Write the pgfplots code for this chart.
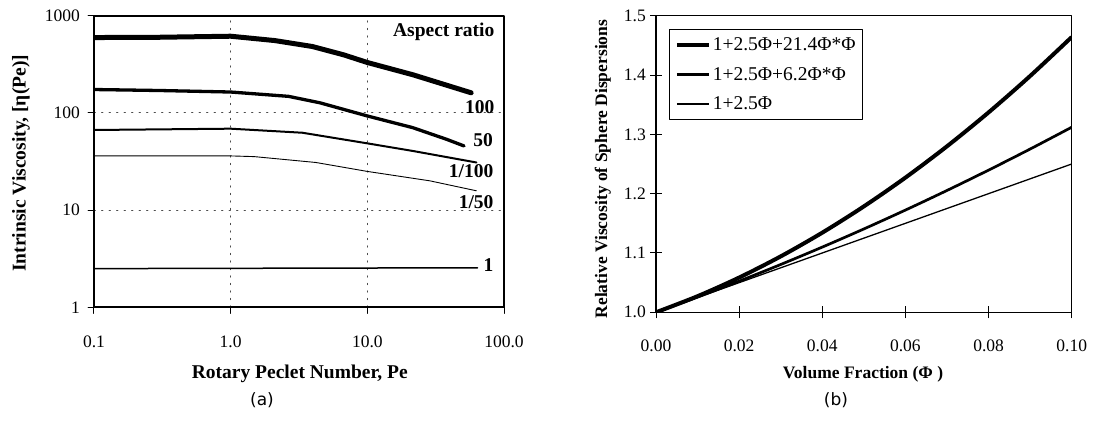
\documentclass[border=0pt]{standalone}
\usepackage{fontspec}
\setmainfont{Liberation Serif}
\newfontfamily\capfont{DejaVu Sans}
\usepackage{pgfplots}
\pgfplotsset{compat=1.18}
\pgfplotstableread{
x y
0.1 596
0.3 600
1.0 615
2.1 555
3.96 482
6.7 396
10 330
21.5 247
57.5 161
}\arhundred
\pgfplotstableread{
x y
0.1 174
0.3 170
1.0 164
2.65 148
4.5 127
10 93
21.5 70.5
38 53.5
51 45.7
}\arfifty
\pgfplotstableread{
x y
0.1 66.7
1.0 68.8
3.35 62.5
10 48.6
21.5 40.6
62.8 30.9
}\aronehundredth
\pgfplotstableread{
x y
0.1 36.1
1.0 36.1
1.49 35.5
4.2 30.9
10 25
28.7 20
62.8 15.8
}\aronefiftieth
\pgfplotstableread{
x y
0.1 2.5
64 2.55
}\arone
\pgfplotstableread{
x a b c
0.00 1.00000 1.00000 1.000
0.01 1.02714 1.02562 1.025
0.02 1.05856 1.05248 1.050
0.03 1.09426 1.08058 1.075
0.04 1.13424 1.10992 1.100
0.05 1.17850 1.14050 1.125
0.06 1.22704 1.17232 1.150
0.07 1.27986 1.20538 1.175
0.08 1.33696 1.23968 1.200
0.09 1.39834 1.27522 1.225
0.10 1.46400 1.31200 1.250
}\spheres
\begin{document}
\begin{tikzpicture}[x=1pt,y=1pt]
\path[use as bounding box] (0,0) rectangle (1096,428);
\begin{axis}[
  at={(94pt,120.7pt)}, anchor=south west,
  scale only axis, width=410pt, height=291.6pt,
  xmode=log, ymode=log,
  xmin=0.1, xmax=100, ymin=1, ymax=1000,
  xtick={0.1,1,10,100}, xticklabels={0.1,1.0,10.0,100.0},
  ytick={1,10,100,1000}, yticklabels={1,10,100,1000},
  xminorticks=false, yminorticks=false,
  tick align=outside, xtick pos=bottom, ytick pos=left,
  major tick length=6pt,
  every tick/.style={black, line width=1pt},
  axis line style={line width=2pt},
  grid=major,
  major grid style={black!70, line width=0.8pt, dash pattern=on 1.5pt off 6pt},
  /pgf/number format/assume math mode=true,
  ticklabel style={font=\fontsize{17.5}{18}\selectfont},
  xticklabel style={anchor=north, inner sep=0pt, yshift=-22pt},
  yticklabel style={anchor=east, inner sep=0pt, xshift=-8pt},
  xlabel={Rotary Peclet Number, Pe},
  ylabel={Intrinsic Viscosity, [η(Pe)]},
  label style={font=\bfseries\fontsize{19.5}{20}\selectfont},
  xlabel style={at={(axis description cs:0.502,-0.229)}, anchor=center},
  ylabel style={at={(axis description cs:-0.178,0.494)}, anchor=center, rotate=0},
  line join=round, line cap=round,
]
\addplot[black, line width=5pt] table[x=x,y=y] {\arhundred};
\addplot[black, line width=3.3pt] table[x=x,y=y] {\arfifty};
\addplot[black, line width=2pt] table[x=x,y=y] {\aronehundredth};
\addplot[black, line width=0.9pt] table[x=x,y=y] {\aronefiftieth};
\addplot[black, line width=1.5pt] table[x=x,y=y] {\arone};
\begin{scope}[every node/.style={font=\bfseries\fontsize{19.5}{20}\selectfont, inner sep=0pt}]
\node at (rel axis cs:0.853,0.945) {Aspect ratio};
\node at (rel axis cs:0.941,0.688) {100};
\node at (rel axis cs:0.949,0.574) {50};
\node at (rel axis cs:0.920,0.467) {1/100};
\node at (rel axis cs:0.932,0.362) {1/50};
\node at (rel axis cs:0.962,0.145) {1};
\end{scope}
\end{axis}
\begin{axis}[
  at={(656pt,115.7pt)}, anchor=south west,
  scale only axis, width=415.7pt, height=296.6pt,
  xmin=0, xmax=0.1, ymin=1, ymax=1.5,
  xtick={0,0.02,0.04,0.06,0.08,0.1}, xticklabels={0.00,0.02,0.04,0.06,0.08,0.10},
  ytick={1,1.1,1.2,1.3,1.4,1.5}, yticklabels={1.0,1.1,1.2,1.3,1.4,1.5},
  scaled x ticks=false,
  tick align=center, xtick pos=bottom, ytick pos=left,
  major tick length=12pt,
  every tick/.style={black, line width=1pt},
  axis line style={line width=1.5pt},
  /pgf/number format/assume math mode=true,
  ticklabel style={font=\fontsize{17.5}{18}\selectfont},
  xticklabel style={anchor=north, inner sep=0pt, yshift=-21pt},
  yticklabel style={anchor=east, inner sep=0pt, xshift=-4pt},
  xlabel={Volume Fraction (Φ )},
  ylabel={Relative Viscosity of Sphere Dispersions},
  label style={font=\bfseries\fontsize{17.5}{18}\selectfont},
  xlabel style={at={(axis description cs:0.498,-0.208)}, anchor=center},
  ylabel style={at={(axis description cs:-0.128,0.483)}, anchor=center},
  legend style={at={(0.032,0.954)}, anchor=north west, draw=black, line width=1pt,
    font=\fontsize{19.5}{20}\selectfont, inner xsep=5pt, inner ysep=6pt, row sep=11pt},
  legend cell align=left,
  legend image code/.code={\draw[#1] (0pt,0pt) -- (32pt,0pt);},
  line join=round,
]
\addplot[black, line width=4pt, smooth] table[x=x,y=a] {\spheres};
\addlegendentry{1+2.5Φ+21.4Φ*Φ}
\addplot[black, line width=2.7pt, smooth] table[x=x,y=b] {\spheres};
\addlegendentry{1+2.5Φ+6.2Φ*Φ}
\addplot[black, line width=1.3pt, smooth] table[x=x,y=c] {\spheres};
\addlegendentry{1+2.5Φ}
\end{axis}
\node[font=\capfont\fontsize{17}{18}\selectfont] at (262,28) {(a)};
\node[font=\capfont\fontsize{17}{18}\selectfont] at (836,28) {(b)};
\end{tikzpicture}
\end{document}
